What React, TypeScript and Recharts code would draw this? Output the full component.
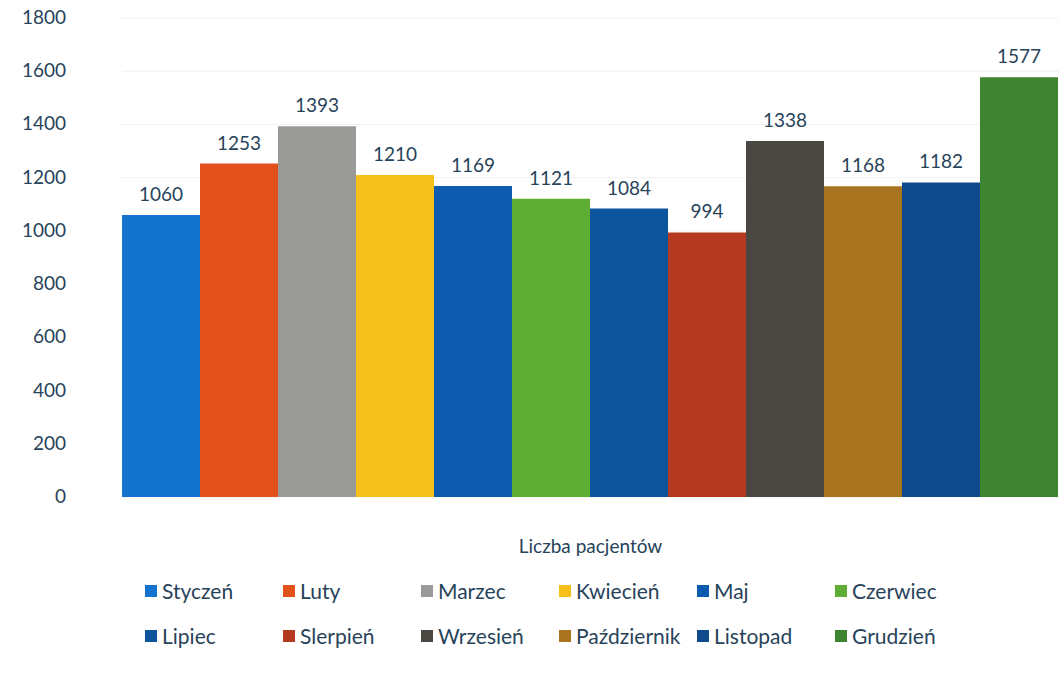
import { BarChart, Bar, XAxis, YAxis, CartesianGrid, LabelList } from 'recharts';

const months = [
  'Styczeń', 'Luty', 'Marzec', 'Kwiecień', 'Maj', 'Czerwiec',
  'Lipiec', 'Slerpień', 'Wrzesień', 'Październik', 'Listopad', 'Grudzień',
];
const patients = [1060, 1253, 1393, 1210, 1169, 1121, 1084, 994, 1338, 1168, 1182, 1577];
const colors = [
  '#1473cf', '#e2501c', '#9a9a98', '#f5c01a', '#0d5cb0', '#5fae34',
  '#0c559c', '#b33a20', '#4a4742', '#a8741f', '#0f4a8c', '#3f8430',
];
const yTicks = [0, 200, 400, 600, 800, 1000, 1200, 1400, 1600, 1800];
const categoryName = 'Liczba pacjentów';

const textColor = '#27435a';
const font = 'Lato, "Open Sans", sans-serif';

const row: Record<string, any> = { name: categoryName };
months.forEach((m, i) => (row[m] = patients[i]));
const data = [row];

// y labels sit well left of the plot, right-aligned around x=66
const YTick = ({ y, payload }: any) => (
  <text x={66} y={y} dy={6} textAnchor="end" fill={textColor} fontSize={19} fontFamily={font}>
    {payload.value}
  </text>
);

const XTick = ({ x, y, payload }: any) => (
  <text x={x} y={y} dy={48} textAnchor="middle" fill={textColor} fontSize={19} fontFamily={font}>
    {payload.value}
  </text>
);

export default function App() {
  return (
    <div style={{ position: 'absolute', left: 0, top: 0, width: 1059, height: 681, background: '#fff' }}>
      <BarChart
        width={1059}
        height={681}
        data={data}
        margin={{ top: 18, right: 0, left: 0, bottom: 124 }}
        barCategoryGap={0}
        barGap={0}
      >
        <CartesianGrid vertical={false} stroke="#f1f1f1" />
        <YAxis
          width={122}
          domain={[0, 1800]}
          ticks={yTicks}
          axisLine={false}
          tickLine={false}
          tick={<YTick />}
        />
        <XAxis dataKey="name" height={60} axisLine={false} tickLine={false} tick={<XTick />} />
        {months.map((m, i) => (
          <Bar key={m} dataKey={m} fill={colors[i]} isAnimationActive={false}>
            <LabelList
              dataKey={m}
              position="top"
              offset={14}
              fill={textColor}
              fontSize={19}
              fontFamily={font}
            />
          </Bar>
        ))}
      </BarChart>

      {/* legend in two rows of six, like the original */}
      <div
        style={{
          position: 'absolute',
          left: 145,
          top: 578,
          display: 'grid',
          gridTemplateColumns: 'repeat(6, 138px)',
          rowGap: 20,
          fontFamily: font,
          fontSize: 21,
          color: textColor,
        }}
      >
        {months.map((m, i) => (
          <div key={m} style={{ display: 'flex', alignItems: 'center', gap: 5 }}>
            <span style={{ width: 12, height: 12, background: colors[i], display: 'inline-block' }} />
            <span>{m}</span>
          </div>
        ))}
      </div>
    </div>
  );
}
